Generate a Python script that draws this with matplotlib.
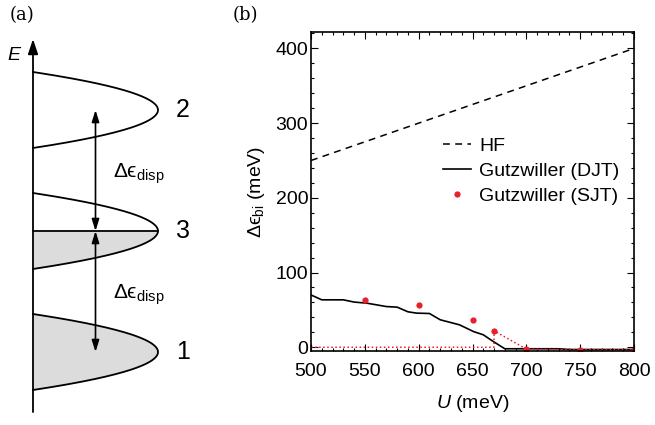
import numpy as np
import matplotlib
matplotlib.use("Agg")
import matplotlib.pyplot as plt
from matplotlib.ticker import MultipleLocator

plt.rcParams['font.family'] = ['Liberation Sans', 'DejaVu Sans']
plt.rcParams['mathtext.fontset'] = 'custom'
plt.rcParams['mathtext.rm'] = 'Liberation Sans'
plt.rcParams['mathtext.it'] = 'Liberation Sans:italic'
plt.rcParams['mathtext.bf'] = 'Liberation Sans:bold'
plt.rcParams['mathtext.fallback'] = 'stixsans'

# ---------------- data: panel (a) schematic ----------------
band_names = ['1', '3', '2']
band_centers = [1.0, 2.0, 3.0]      # energy units
band_halfwidth = 0.314
band_peak = 1.0                     # DOS peak height
arrow_pos = 0.5                     # DOS position of double arrows
e_axis = [0.504, 3.587]

# ---------------- data: panel (b) ----------------
U_hf = [500, 800]
hf = [250, 400]
U_djt = [500, 510, 530, 540, 552, 570, 580, 590, 598, 610, 620, 638, 651, 660,
         669, 680, 730, 740, 800]
djt = [70, 63.5, 63.5, 60.5, 59, 54.5, 53.7, 47.5, 45.7, 45.2, 36.8, 30, 21,
       16.7, 8, -2, -2, -3, -3]
U_sjt = [550, 600, 650, 670, 700, 750, 800]
sjt = [62.6, 56, 36, 22, -2.4, -3.3, -3.3]
U_sjt_path = [500, 670, 670, 700, 750, 800]
sjt_path = [0, 0, 22, -2.4, -3.3, -3.3]

W, H = 655, 425
fig = plt.figure(figsize=(6.55, 4.25), dpi=100)

# ---------------- panel (a) ----------------
axa = fig.add_axes([0, 0, 220 / W, 1])
axa.set_xlim(-33 / 125, (220 - 33) / 125)
axa.set_ylim(1 + (352 - 425) / 121, 1 + 352 / 121)
axa.axis('off')

gray = '#dcdcdc'
for name, ec in zip(band_names, band_centers):
    e = np.linspace(ec - band_halfwidth, ec + band_halfwidth, 200)
    x = band_peak * (1 - ((e - ec) / band_halfwidth) ** 2)
    if name == '1':
        axa.fill_betweenx(e, 0, x, color=gray, lw=0)
    elif name == '3':
        m = e <= ec
        axa.fill_betweenx(e[m], 0, x[m], color=gray, lw=0)
        axa.plot([0, band_peak], [ec, ec], color='black', lw=1.3)
    axa.plot(x, e, color='black', lw=1.3)
    axa.text(1.2, ec, name, fontsize=18, ha='center', va='center')

axa.annotate('', xy=(0, e_axis[1]), xytext=(0, e_axis[0]),
             arrowprops=dict(arrowstyle='-|>,head_length=0.9,head_width=0.3',
                             color='black', lw=1.3, shrinkA=0, shrinkB=0))
axa.text(-0.15, 3.45, '$E$', fontsize=14, ha='center', va='center')

for e0, e1 in [(band_centers[2], band_centers[1]), (band_centers[1], band_centers[0])]:
    axa.annotate('', xy=(arrow_pos, e1), xytext=(arrow_pos, e0),
                 arrowprops=dict(arrowstyle='<|-|>,head_length=0.7,head_width=0.22',
                                 color='black', lw=1.2, shrinkA=0, shrinkB=0))
lab_disp = r'Δϵ$_{\mathrm{disp}}$'
axa.text(0.85, 2.47, lab_disp, fontsize=15, ha='center', va='center')
axa.text(0.85, 1.47, lab_disp, fontsize=15, ha='center', va='center')

fig.text(22 / W, 1 - 15 / H, '(a)', family='DejaVu Serif', fontsize=13,
         ha='center', va='center')
fig.text(245 / W, 1 - 15 / H, '(b)', family='DejaVu Serif', fontsize=13,
         ha='center', va='center')

# ---------------- panel (b) ----------------
ax = fig.add_axes([311 / W, 1 - 351 / H, (634 - 311) / W, (351 - 32) / H])
ax.plot(U_hf, hf, color='black', lw=1.1, ls=(0, (4.5, 3.5)), label='HF')
ax.plot(U_djt, djt, color='black', lw=1.2, label='Gutzwiller (DJT)')
ax.plot(U_sjt_path, sjt_path, color='#e8202a', lw=1.1, ls=':')
ax.plot(U_sjt, sjt, 'o', color='#e8202a', ms=4.5, mec='none',
        label='Gutzwiller (SJT)')

ax.set_xlim(500, 800)
ax.set_ylim(-5, 422)
ax.set_xticks([500, 550, 600, 650, 700, 750, 800])
ax.set_yticks([0, 100, 200, 300, 400])
ax.xaxis.set_minor_locator(MultipleLocator(10))
ax.yaxis.set_minor_locator(MultipleLocator(20))
ax.tick_params(which='both', direction='in', top=True, right=True,
               labelsize=14, width=0.8)
ax.tick_params(axis='x', which='major', pad=9)
ax.tick_params(axis='y', which='major', pad=2)
ax.tick_params(which='major', length=5)
ax.tick_params(which='minor', length=2.5)
for s in ax.spines.values():
    s.set_linewidth(1.2)

ax.set_xlabel('$U$ (meV)', fontsize=14, labelpad=9)
ax.set_ylabel(r'Δϵ$_{\mathrm{bi}}$ (meV)', fontsize=14, labelpad=6)

ax.legend(loc='upper left', bbox_to_anchor=((443 - 311) / (634 - 311), (351 - 137) / (351 - 32)),
          frameon=False, fontsize=14, handlelength=1.45, handletextpad=0.4,
          labelspacing=0.38, borderaxespad=0, borderpad=0)

fig.savefig('out.png', dpi=100)
